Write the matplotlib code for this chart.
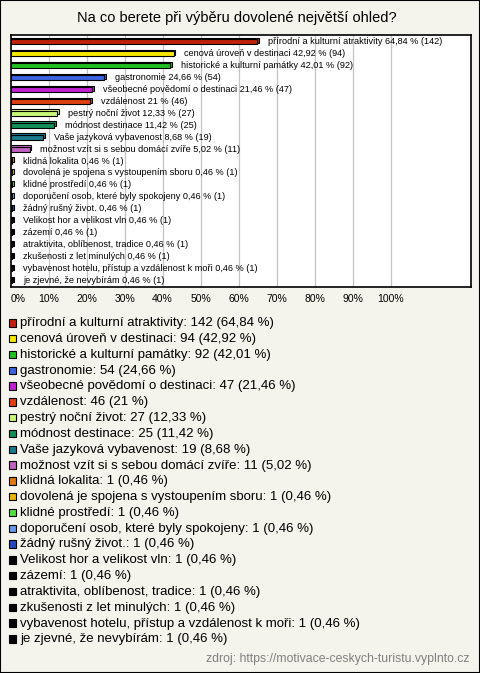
import matplotlib
matplotlib.use('Agg')
from matplotlib import pyplot as plt
from matplotlib.patches import Rectangle

names = ['přírodní a kulturní atraktivity', 'cenová úroveň v destinaci',
         'historické a kulturní památky', 'gastronomie',
         'všeobecné povědomí o destinaci', 'vzdálenost', 'pestrý noční život',
         'módnost destinace', 'Vaše jazyková vybavenost',
         'možnost vzít si s sebou domácí zvíře', 'klidná lokalita',
         'dovolená je spojena s vystoupením sboru', 'klidné prostředí',
         'doporučení osob, které byly spokojeny', 'žádný rušný život.',
         'Velikost hor a velikost vln', 'zázemí',
         'atraktivita, oblíbenost, tradice', 'zkušenosti z let minulých',
         'vybavenost hotelu, přístup a vzdálenost k moři',
         'je zjevné, že nevybírám']
counts = [142, 94, 92, 54, 47, 46, 27, 25, 19, 11, 1, 1, 1, 1, 1, 1, 1, 1, 1, 1, 1]
pcts = [64.84, 42.92, 42.01, 24.66, 21.46, 21, 12.33, 11.42, 8.68, 5.02,
        0.46, 0.46, 0.46, 0.46, 0.46, 0.46, 0.46, 0.46, 0.46, 0.46, 0.46]
colors = ['#c0200c', '#f8e800', '#20c020', '#3c64e0', '#c020d0', '#e04010',
          '#c8f878', '#108f58', '#1a7a8c', '#c060c0', '#e07810', '#e8b400',
          '#50e040', '#6898e8', '#2848c0', '#000000', '#000000', '#000000',
          '#000000', '#000000', '#000000']
ticks = [0, 10, 20, 30, 40, 50, 60, 70, 80, 90, 100]
title = 'Na co berete při výběru dovolené největší ohled?'
source = 'zdroj: https://motivace-ceskych-turistu.vyplnto.cz'

plt.rcParams['font.family'] = ['Liberation Sans', 'DejaVu Sans']
bg = '#f4f3ec'
W, H = 480, 673

def fmt(p):
    return f'{p:g}'.replace('.', ',')

fig = plt.figure(figsize=(W / 100, H / 100), dpi=100, facecolor=bg)
fig.patches.append(Rectangle((0, 0), 1, 1, transform=fig.transFigure,
                             fill=False, edgecolor='black', lw=1.5))

fig.text(237 / W, 1 - 18 / H, title, ha='center', va='center', fontsize=10.5)

ax = fig.add_axes([10.5 / W, 1 - 287 / H, 460 / W, 252 / H])
ax.set_facecolor('white')
n = len(names)
ax.set_xlim(0, 121)
ax.set_ylim(n - 1 + 0.54, -0.54)
for t in ticks[1:]:
    ax.axvline(t, color='#c4c4c4', lw=0.9, zorder=0)

y = list(range(n))
# 3D look: back face shifted up/right, then the front face
ax.barh([v - 0.1 for v in y], [p + 0.45 for p in pcts], left=0.0, height=0.42,
        color=colors, edgecolor='black', lw=0.8, zorder=2)
ax.barh(y, pcts, height=0.42, color=colors, edgecolor='black', lw=0.8, zorder=3)
for i in range(n):
    ax.text(pcts[i] + 2.8, y[i], f'{names[i]} {fmt(pcts[i])} % ({counts[i]})',
            va='center', ha='left', fontsize=6.6, zorder=4)

ax.set_yticks([])
ax.set_xticks(ticks)
labels = ax.set_xticklabels([f'{t}%' for t in ticks], fontsize=7.5)
labels[0].set_ha('left')
ax.tick_params(axis='x', length=0, pad=5)
for s in ax.spines.values():
    s.set_linewidth(1.2)

# legend
y0, dy = 323.3, 15.8
for i in range(n):
    yy = y0 + i * dy
    fig.patches.append(Rectangle((8.5 / W, 1 - (yy + 3.3) / H), 7.5 / W, 7.5 / H,
                                 transform=fig.transFigure, facecolor=colors[i],
                                 edgecolor='black', lw=0.8))
    fig.text(20 / W, 1 - yy / H, f'{names[i]}: {counts[i]} ({fmt(pcts[i])} %)',
             ha='left', va='center', fontsize=9.5)

fig.text(470 / W, 1 - 659 / H, source, ha='right', va='center', fontsize=8.85,
         color='#808080')

fig.savefig('out.png', dpi=100, facecolor=bg)
